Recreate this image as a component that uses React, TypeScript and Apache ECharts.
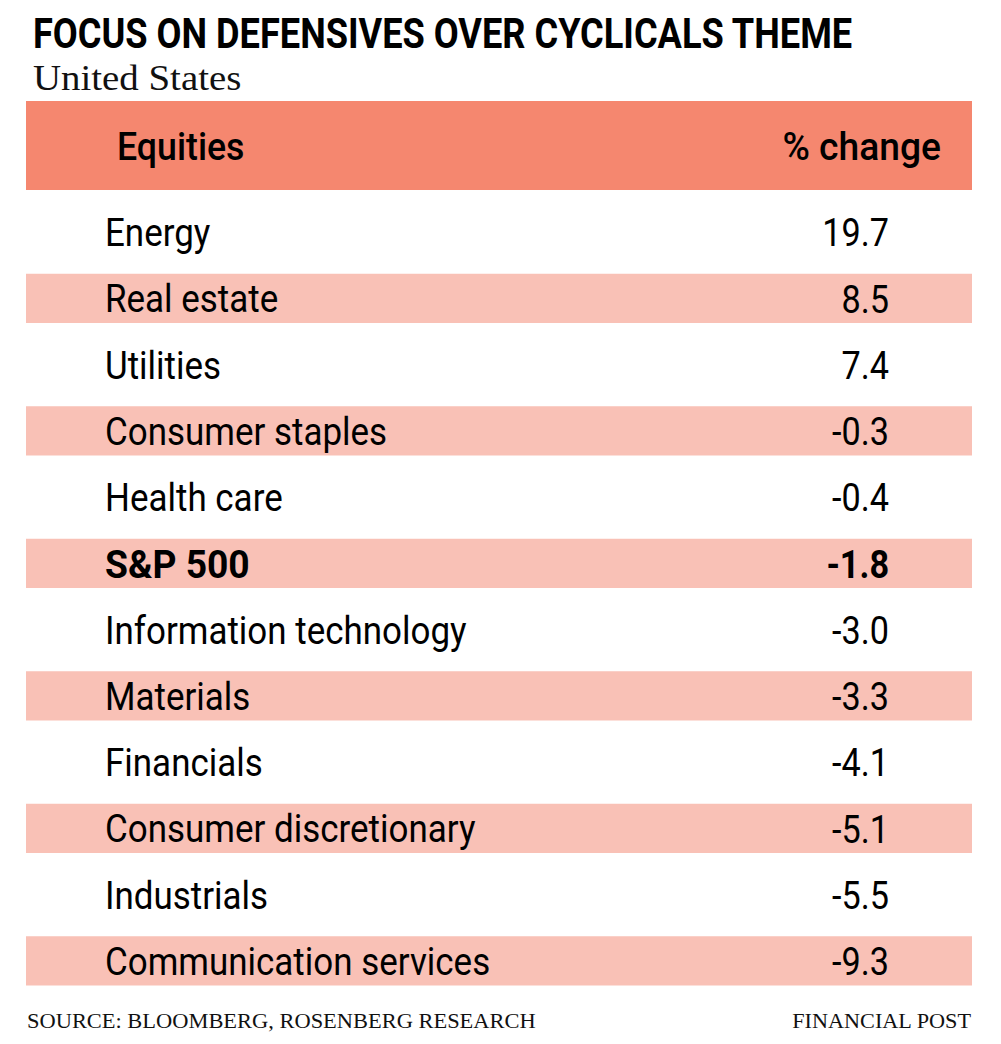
import React, { useEffect, useRef } from "react";
import * as echarts from "echarts";

const titleText = "FOCUS ON DEFENSIVES OVER CYCLICALS THEME";
const subtitleText = "United States";
const headerLabels = ["Equities", "% change"];
const categories = [
  "Energy",
  "Real estate",
  "Utilities",
  "Consumer staples",
  "Health care",
  "S&P 500",
  "Information technology",
  "Materials",
  "Financials",
  "Consumer discretionary",
  "Industrials",
  "Communication services",
];
const values = [19.7, 8.5, 7.4, -0.3, -0.4, -1.8, -3.0, -3.3, -4.1, -5.1, -5.5, -9.3];
const boldRows = ["S&P 500"];
const sourceText = "SOURCE: BLOOMBERG, ROSENBERG RESEARCH";
const creditText = "FINANCIAL POST";

const HEADER = "#F5876F";
const STRIPE = "#F9C1B6";
const SANS = "Roboto";
const SERIF = "Liberation Serif";

export default function App() {
  const ref = useRef<HTMLDivElement>(null);
  useEffect(() => {
    if (!ref.current) return;
    const chart = echarts.init(ref.current, null, { renderer: "svg" });
    const data = categories.map((c, i) => [0.5, i, values[i], c]);
    chart.setOption({
      animation: false,
      backgroundColor: "#ffffff",
      grid: { left: 26, right: 29, top: 199, height: 795, containLabel: false },
      xAxis: { type: "value", min: 0, max: 1, show: false },
      yAxis: { type: "category", data: categories, inverse: true, show: false },
      graphic: [
        {
          type: "text",
          x: 33,
          y: 34,
          scaleX: 0.862,
          style: {
            text: titleText,
            font: `bold 42px ${SANS}`,
            fill: "#000",
            verticalAlign: "middle",
          },
        },
        {
          type: "text",
          x: 33,
          y: 78,
          scaleX: 1.08,
          style: {
            text: subtitleText,
            font: `36px '${SERIF}'`,
            fill: "#111",
            verticalAlign: "middle",
          },
        },
        {
          type: "rect",
          shape: { x: 26, y: 101, width: 946, height: 89 },
          style: { fill: HEADER },
        },
        {
          type: "text",
          x: 117,
          y: 147,
          scaleX: 0.94,
          style: {
            text: headerLabels[0],
            font: `500 38px ${SANS}`,
            fill: "#000",
            verticalAlign: "middle",
          },
        },
        {
          type: "text",
          x: 941,
          y: 147,
          scaleX: 0.98,
          style: {
            text: headerLabels[1],
            font: `500 38px ${SANS}`,
            fill: "#000",
            align: "right",
            verticalAlign: "middle",
          },
        },
        {
          type: "text",
          x: 27,
          y: 1021,
          scaleX: 1.02,
          style: {
            text: sourceText,
            font: `22px '${SERIF}'`,
            fill: "#111",
            verticalAlign: "middle",
          },
        },
        {
          type: "text",
          x: 971,
          y: 1021,
          scaleX: 1.01,
          style: {
            text: creditText,
            font: `22px '${SERIF}'`,
            fill: "#111",
            align: "right",
            verticalAlign: "middle",
          },
        },
      ],
      series: [
        {
          type: "custom",
          data,
          encode: { x: 0, y: 1 },
          renderItem: (params: any, api: any) => {
            const idx = api.value(1);
            const val = api.value(2);
            const name = categories[idx];
            const pt = api.coord([0, idx]);
            const band = api.size([0, 1])[1];
            const cs = params.coordSys;
            const cy = pt[1];
            const bold = boldRows.indexOf(name) >= 0;
            const children: any[] = [];
            if (idx % 2 === 1) {
              const h = band * 0.74;
              children.push({
                type: "rect",
                shape: { x: cs.x, y: cy - h / 2, width: cs.width, height: h },
                style: { fill: STRIPE },
              });
            }
            children.push({
              type: "text",
              x: cs.x + 79,
              y: cy + 1,
              scaleX: bold ? 0.98 : 0.92,
              style: {
                text: name,
                font: `${bold ? "bold" : "normal"} 38px ${SANS}`,
                fill: "#000",
                verticalAlign: "middle",
              },
            });
            children.push({
              type: "text",
              x: cs.x + 863,
              y: cy + 1,
              scaleX: 0.9,
              style: {
                text: Number(val).toFixed(1),
                font: `${bold ? "bold" : "normal"} 38px ${SANS}`,
                fill: "#000",
                align: "right",
                verticalAlign: "middle",
              },
            });
            return { type: "group", children };
          },
        },
      ],
    });
    return () => chart.dispose();
  }, []);
  return (
    <div
      ref={ref}
      style={{ position: "fixed", left: 0, top: 0, width: 1001, height: 1044 }}
    />
  );
}
